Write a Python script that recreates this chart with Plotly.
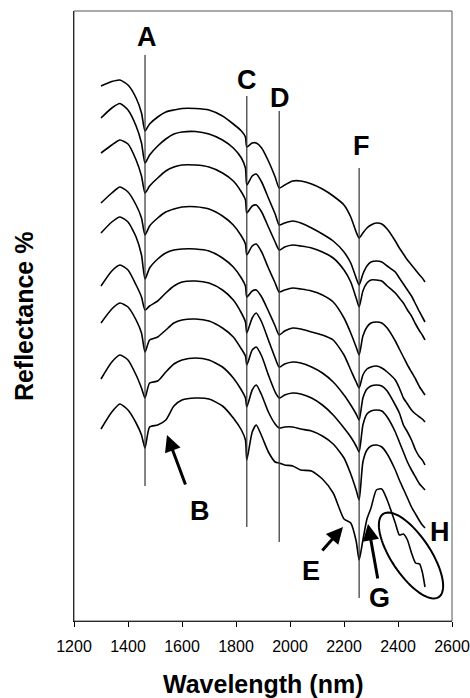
import plotly.graph_objects as go
import math

# ---------------- data ----------------
wavelength_nm = [1300, 1340, 1370, 1400, 1430, 1450, 1463, 1480, 1510, 1540, 1570, 1600, 1650,
                 1700, 1750, 1790, 1820, 1835, 1840, 1860, 1875, 1895, 1920, 1945, 1960, 1980,
                 2010, 2040, 2080, 2120, 2160, 2200, 2225, 2245, 2256, 2270, 2285, 2300, 2320,
                 2340, 2360, 2390, 2405, 2420, 2435, 2450, 2465, 2480, 2490, 2500]

# offset spectra, expressed as depth below the top of the frame (arbitrary units)
spec1 = [86, 81.5, 80, 85, 98, 113, 131, 124, 117, 112, 110, 108.5, 108.5, 110, 116, 124, 131, 137, 147, 143, 143, 148, 161, 177, 188, 185,
         181, 181, 184, 189, 196, 205, 217, 232, 238, 233, 228, 225, 223, 224, 229, 241, 248, 254, 260, 265, 270, 275, 278, 282]
spec2 = [118, 108, 103.5, 110, 126, 143, 163, 155, 146, 139, 134, 132, 131.5, 134, 140, 148, 158, 168, 185, 176, 174, 182, 198, 214, 225, 223,
         221, 223, 228, 234, 241, 252, 263, 278, 285, 274, 266, 262, 261, 262, 266, 272, 278, 284, 290, 296, 304, 312, 317, 322]
spec3 = [153, 145, 140, 144, 160, 176, 193, 186, 178, 171, 167, 165, 165, 167, 173, 181, 192, 200, 213, 206, 205, 212, 227, 242, 250, 247,
         245, 246, 248, 252, 258, 270, 282, 298, 307, 291, 283, 280, 280, 281, 286, 293, 298, 303, 310, 316, 324, 331, 335, 340]
spec4 = [203, 193, 187, 192, 205, 218, 235, 226, 218, 212, 209, 207, 206.7, 209, 216, 225, 236, 244, 255, 246, 244, 252, 268, 283, 292, 290,
         288, 289, 291, 295, 302, 318, 333, 347, 355, 336, 327, 323, 322, 323, 328, 341, 349, 357, 365, 372, 379, 387, 391, 395]
spec5 = [233, 222, 217, 222, 237, 255, 279, 268, 259, 253, 250, 249, 249, 251, 258, 267, 278, 286, 297, 291, 290, 297, 311, 326, 335, 331,
         328, 329, 332, 335, 340, 355, 370, 382, 388, 375, 369, 367, 366, 368, 372, 380, 388, 398, 404, 410, 414, 417, 419, 422]
spec6 = [286, 271, 265, 270, 285, 297, 310, 306, 301, 293, 286, 282, 281, 283, 290, 300, 313, 322, 333, 318, 313, 322, 340, 358, 367, 364,
         362, 363, 367, 373, 382, 395, 405, 414, 420, 398, 389, 386, 385, 386, 391, 405, 413, 425, 432, 440, 450, 457, 460, 465]
spec7 = [323, 309, 303, 307, 320, 333, 352, 340, 337, 330, 323, 320, 319, 321, 328, 337, 349, 356, 365, 350, 347, 356, 375, 392, 398, 395,
         393, 394, 398, 405, 415, 428, 437, 446, 452, 425, 414, 411, 410, 411, 417, 432, 442, 452, 462, 470, 477, 484, 487, 490]
spec8 = [379, 362, 355, 360, 375, 388, 398, 383, 381, 372, 364, 360, 358, 360, 367, 378, 390, 398, 407, 390, 385, 395, 412, 424, 428, 427,
         427, 429, 431, 436, 444, 458, 474, 490, 500, 462, 450, 446, 445, 447, 454, 470, 480, 489, 498, 507, 514, 521, 525, 528]
spec9 = [429, 412, 404, 410, 423, 435, 448, 427, 425, 420, 406, 400, 398, 399, 406, 418, 430, 440, 460, 432, 425, 436, 452, 462, 463, 465,
         466, 470, 471, 479, 493, 519, 523, 541, 560, 540, 519, 508, 490, 489, 500, 523, 535, 534, 540, 553, 563, 564, 572, 587]
spectra = [spec1, spec2, spec3, spec4, spec5, spec6, spec7, spec8, spec9]

FRAME_TOP = 610  # depth values are measured down from this level

# absorption bands marked with vertical lines
band_labels = ["A", "C", "D", "F"]
band_nm = [1463, 1840, 1960, 2256]
band_top = [566, 525, 510, 453]
band_bottom = [135, 94, 79, 23]

# ---------------- figure ----------------
FONT = "Arial, 'Liberation Sans', sans-serif"
fig = go.Figure()

for s in spectra:
    fig.add_trace(go.Scatter(
        x=wavelength_nm, y=[FRAME_TOP + 11 - v for v in s], mode="lines",
        line=dict(color="black", width=1.6, shape="spline", smoothing=0.6),
        showlegend=False, hoverinfo="skip"))

shapes = []
for nm, t, b in zip(band_nm, band_top, band_bottom):
    shapes.append(dict(type="line", xref="x", yref="y", x0=nm, x1=nm, y0=b, y1=t,
                       line=dict(color="#333", width=1.2)))

# pixel helpers for annotation placement
def px2x(px):
    return 1200 + (px - 74) / 0.27

def py2y(py):
    return 621 - py

# ellipse around H features
cx, cy, a, b, ang = 411, 555.5, 50, 19.5, math.radians(56.3)
pts = []
for i in range(73):
    t = 2 * math.pi * i / 72
    ex = cx + a * math.cos(t) * math.cos(ang) - b * math.sin(t) * math.sin(ang)
    ey = cy + a * math.cos(t) * math.sin(ang) + b * math.sin(t) * math.cos(ang)
    pts.append((px2x(ex), py2y(ey)))
path = "M " + " L ".join(f"{x:.2f},{y:.2f}" for x, y in pts) + " Z"
shapes.append(dict(type="path", xref="x", yref="y", path=path, line=dict(color="black", width=2)))

# frame (top & right)
shapes.append(dict(type="rect", xref="paper", yref="paper", x0=0, x1=1, y0=0, y1=1,
                   line=dict(color="#555", width=1)))

annotations = []
letter_pos = {"A": (147, 37), "C": (247, 80), "D": (280, 98), "F": (361, 146),
              "B": (200, 511), "E": (311, 571), "G": (379, 598), "H": (440, 532)}
for k, (px, py) in letter_pos.items():
    annotations.append(dict(x=px2x(px), y=py2y(py), xref="x", yref="y", text=f"<b>{k}</b>",
                            showarrow=False, font=dict(family=FONT, size=27, color="black"),
                            xanchor="center", yanchor="middle"))

arrows = [((167, 435), (186, 486)), ((343, 527), (321, 552)), ((368, 524), (378, 580))]
for (hx, hy), (tx, ty) in arrows:
    annotations.append(dict(x=px2x(hx), y=py2y(hy), ax=px2x(tx), ay=py2y(ty),
                            xref="x", yref="y", axref="x", ayref="y", text="",
                            showarrow=True, arrowhead=2, arrowsize=1.1, arrowwidth=3,
                            arrowcolor="black"))

annotations.append(dict(x=-0.132, y=0.5, xref="paper", yref="paper", text="<b>Reflectance %</b>",
                        textangle=-90, showarrow=False, font=dict(family=FONT, size=25, color="black"),
                        xanchor="center", yanchor="middle"))
annotations.append(dict(x=0.5, y=py2y(684) / 610, xref="paper", yref="paper", text="<b>Wavelength (nm)</b>",
                        showarrow=False, font=dict(family=FONT, size=25, color="black"),
                        xanchor="center", yanchor="middle"))

fig.update_layout(
    width=470, height=698, autosize=False,
    margin=dict(l=74, r=18, t=11, b=77, autoexpand=False),
    paper_bgcolor="white", plot_bgcolor="white",
    shapes=shapes, annotations=annotations,
    xaxis=dict(range=[1200, 2600], tickvals=[1200, 1400, 1600, 1800, 2000, 2200, 2400, 2600],
               ticks="outside", ticklen=5, tickwidth=1.2, tickcolor="black", automargin=False,
               ticklabelstandoff=6,
               showline=True, linecolor="black", linewidth=1.2, showgrid=False, zeroline=False,
               tickfont=dict(family=FONT, size=16, color="black"), tickprefix="<b>", ticksuffix="</b>"),
    yaxis=dict(range=[0, 610], showticklabels=False, ticks="", showline=True, linecolor="black",
               linewidth=1.2, showgrid=False, zeroline=False, automargin=False),
)

fig.write_html("out.html", config={"responsive": False, "displayModeBar": False},
               post_script="document.body.style.margin='0';document.body.style.overflow='hidden';")
